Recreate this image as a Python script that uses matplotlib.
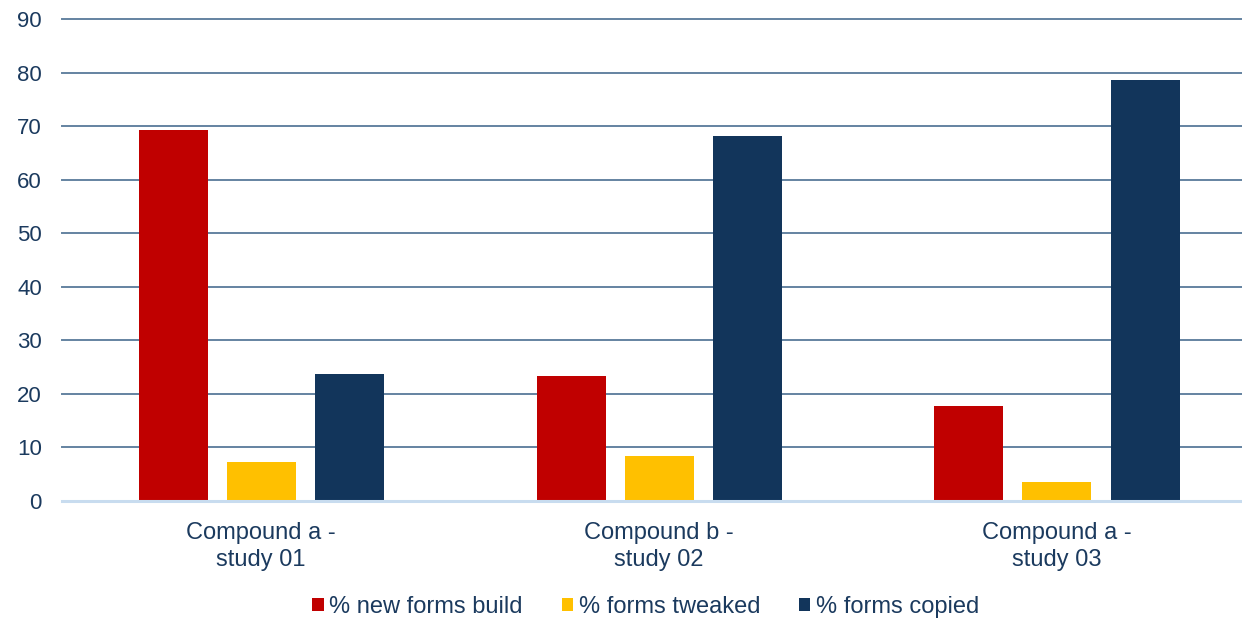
import matplotlib
matplotlib.use("Agg")
import matplotlib.pyplot as plt
import numpy as np

categories = ["Compound a -\nstudy 01", "Compound b -\nstudy 02", "Compound a -\nstudy 03"]
series_names = ["% new forms build", "% forms tweaked", "% forms copied"]
new_forms = [69.3, 23.3, 17.7]
tweaked = [7.3, 8.4, 3.5]
copied = [23.7, 68.1, 78.6]
yticks = [0, 10, 20, 30, 40, 50, 60, 70, 80, 90]

colors = ["#C00000", "#FFC000", "#12355B"]
text_color = "#1B3A5E"

plt.rcParams['font.family'] = ['Liberation Sans', 'DejaVu Sans']

fig = plt.figure(figsize=(12.42, 6.24), dpi=100)
ax = fig.add_axes([62/1242, (624-501)/624, 1 - 62/1242, (501-19)/624])

x = np.arange(len(categories))
w = 69/398
step = 88/398
for i, (vals, c, name) in enumerate(zip([new_forms, tweaked, copied], colors, series_names)):
    ax.bar(x + (i - 1) * step, vals, width=w, color=c, label=name, zorder=3)

ax.set_ylim(0, 90)
ax.set_xlim(-0.5, (1242 - 261) / 398)
ax.set_yticks(yticks)
ax.set_xticks(x)
ax.set_xticklabels(categories, fontsize=17, color=text_color, linespacing=1.32)
ax.tick_params(axis='y', labelsize=16, colors=text_color, length=0, pad=14.4)
ax.tick_params(axis='x', length=0, pad=15)
for lab in ax.get_yticklabels():
    lab.set_color(text_color)

for yv in yticks[1:]:
    ax.axhline(yv, color="#6483A1", lw=1.4, zorder=1, clip_on=False)
ax.axhline(0, color="#C8DCEF", lw=2.2, zorder=4, clip_on=False)

for s in ax.spines.values():
    s.set_visible(False)

leg = fig.legend(loc='center', bbox_to_anchor=(646/1242, 1 - 607/624), ncol=3, frameon=False,
                 fontsize=17, handlelength=0.47, handleheight=0.47, handletextpad=0.25,
                 columnspacing=1.65, labelcolor=text_color, borderpad=0, borderaxespad=0)

fig.savefig("out.png", dpi=100)
